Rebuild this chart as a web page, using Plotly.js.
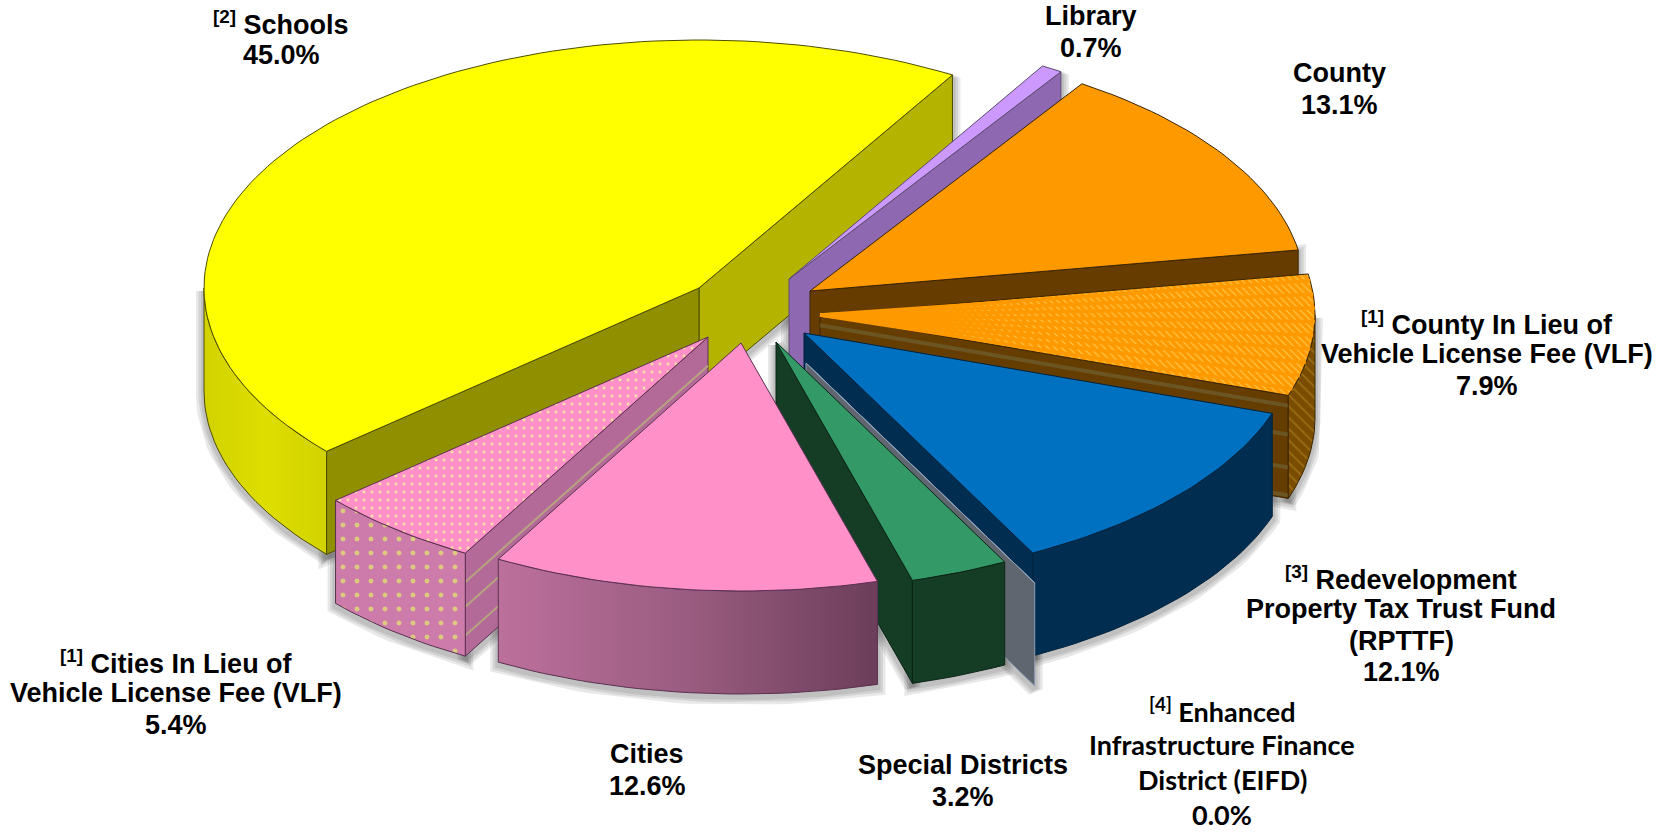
<!DOCTYPE html>
<html>
<head>
<meta charset="utf-8">
<script src="https://cdn.plot.ly/plotly-3.0.1.min.js"></script>
<style>html,body{margin:0;padding:0;background:#fff}#chart{width:1674px;height:832px}</style>
</head>
<body>
<div id="chart"></div>
<script>
// ---- data, going counter-clockwise ----
var categories = ["Schools", "Cities In Lieu of VLF", "Cities", "Special Districts", "EIFD",
                  "RPTTF", "County In Lieu of VLF", "County", "Library"];
var shares = [45.0, 5.4, 12.6, 3.2, 0.0, 12.1, 7.9, 13.1, 0.7];
var labelLines = [
  ["<sup>[2]</sup> Schools", "45.0%"],
  ["<sup>[1]</sup> Cities In Lieu of", "Vehicle License Fee (VLF)", "5.4%"],
  ["Cities", "12.6%"],
  ["Special Districts", "3.2%"],
  ["<sup>[4]</sup> Enhanced", "Infrastructure Finance", "District (EIFD)", "0.0%"],
  ["<sup>[3]</sup> Redevelopment", "Property Tax Trust Fund", "(RPTTF)", "12.1%"],
  ["<sup>[1]</sup> County In Lieu of", "Vehicle License Fee (VLF)", "7.9%"],
  ["County", "13.1%"],
  ["Library", "0.7%"]
];

// ---- pie geometry ----
var pie = {cx: 745, cy: 305, rx: 495, ry: 248, depth: 103, startAngle: 59.2};
var pullX = [-46, -37, -4, 31, 61, 59, 75, 65, 44];
var pullY = [-17, 32, 38, 37, 58, 28, 10, -14, -26];
var labelX = [281, 176, 647, 963, 1222, 1401, 1487, 1339, 1091];
var labelY = [39, 693, 770, 781, 762, 625, 354, 89, 32];
var labelFont = ["Liberation Sans","Liberation Sans","Liberation Sans","Liberation Sans","Lato","Liberation Sans","Liberation Sans","Liberation Sans","Liberation Sans"];
var labelSize = [27, 27, 27, 27, 27, 27, 27, 27, 27];
var labelGap = [31.5, 31.5, 31.5, 31.5, 35, 31.5, 31.5, 31.5, 31.5];
var drawOrder = [0, 8, 7, 6, 5, 4, 3, 1, 2];

// ---- styles ----
var topColor = ["#FFFF00", "#FF91C8", "#FF91C8", "#339966", "#8FA0B8", "#0070C0", "#FF9900", "#FF9900", "#CC99FF"];
var startWall = ["#B3B300", "#B46A98", "#B46A98", "#153D26", "#5F6670", "#002D50", "#663D00", "#663C00", "#8E68B0"];
var endWall = ["#8F8F00", "#B46A98", "#B46A98", "#153D26", "#5F6670", "#002D50", "#663D00", "#663C00", "#8E68B0"];
var edgeColor = ["#4d4d00", "#5a3050", "#5a3050", "#0c2416", "#8FA0B8", "#00233f", "#3a2400", "#3a2400", "#5c4a70"];
var rimGradient = [
  [[0, "#D2D200"], [0.5, "#DEDE00"], [1, "#D2D200"]],
  null,
  [[0, "#BC709C"], [0.5, "#9A5C80"], [1, "#6C3E5A"]],
  [[0, "#153D26"], [1, "#153D26"]],
  null,
  [[0, "#002D50"], [1, "#002D50"]],
  null, null, null
];
var topPattern = [null, {shape: ".", fgcolor: "#FBE3A8", bgcolor: "#FF91C8", size: 8, solidity: 0.1},
  null, null, null, null, {shape: "\\", fgcolor: "#FFC84A", bgcolor: "#FF9900", size: 5, solidity: 0.22}, null, null];
var topBands = [0, 0, 0, 0, 0, 0, 9, 0, 0];
var rimPattern = [null, {shape: ".", fgcolor: "#DCCB7E", bgcolor: "#CD7BAA", size: 14, solidity: 0.1},
  null, null, null, null, {shape: "\\", fgcolor: "#9A6F14", bgcolor: "#7A4C00", size: 8, solidity: 0.2}, null, null];
var wallStripes = [null, {at: [0.28, 0.52, 0.8], color: "#B5A47F", width: 2},
  null, null, null, null, {at: [0.1, 0.38, 0.7, 0.97], color: "#6B5522", width: 4}, null, null];

// ---- build ----
function rad(d) { return d * Math.PI / 180; }
function rimPoint(i, t) {
  return [pie.cx + pullX[i] + pie.rx * Math.cos(rad(t)), pie.cy + pullY[i] - pie.ry * Math.sin(rad(t))];
}
function apex(i) { return [pie.cx + pullX[i], pie.cy + pullY[i]]; }
function arc(i, a, b) {
  var pts = [], n = Math.max(2, Math.ceil(Math.abs(b - a) / 1.5));
  for (var k = 0; k <= n; k++) pts.push(rimPoint(i, a + (b - a) * k / n));
  return pts;
}
function down(p, f) { return [p[0], p[1] + pie.depth * (f === undefined ? 1 : f)]; }
function poly(pts, opts) {
  var x = pts.map(function (p) { return p[0]; }), y = pts.map(function (p) { return p[1]; });
  x.push(x[0]); y.push(y[0]);
  var t = {type: "scatter", mode: "lines", x: x, y: y, fill: "toself", hoverinfo: "skip", showlegend: false,
           line: {color: opts.edge, width: opts.width === undefined ? 1 : opts.width}};
  if (opts.color) t.fillcolor = opts.color;
  if (opts.gradient) t.fillgradient = {type: "horizontal", colorscale: opts.gradient};
  if (opts.pattern) t.fillpattern = opts.pattern;
  return t;
}
function stroke(pts, color, width) {
  return {type: "scatter", mode: "lines", x: pts.map(function (p) { return p[0]; }), y: pts.map(function (p) { return p[1]; }),
          hoverinfo: "skip", showlegend: false, line: {color: color, width: width}};
}

var total = shares.reduce(function (a, b) { return a + b; }, 0);
var angle0 = [], angle1 = [], run = pie.startAngle;
shares.forEach(function (v, i) { angle0[i] = run; run += v / total * 360; angle1[i] = run; });

function visibleRim(i) {
  var a = angle0[i], b = angle1[i], lo = Math.max(a, 180), hi = Math.min(b, 360);
  return hi > lo ? [lo, hi] : null;
}
function wall(i, t) {
  var A = apex(i), R = rimPoint(i, t);
  return [A, R, down(R), down(A)];
}
function rimPoly(i, r) {
  var top = arc(i, r[0], r[1]);
  return top.concat(top.slice().reverse().map(function (p) { return down(p); }));
}

var traces = [], shadows = [];
drawOrder.forEach(function (i) {
  var r = visibleRim(i), outlines = [];
  if (r) outlines.push(rimPoly(i, r));
  if (Math.cos(rad(angle0[i])) > 0) outlines.push(wall(i, angle0[i]));
  if (Math.cos(rad(angle1[i])) < 0) outlines.push(wall(i, angle1[i]));
  outlines.forEach(function (o) {
    var closed = o.concat([o[0]]).map(function (p) { return [p[0], p[1] + 3]; });
    [16, 11, 6].forEach(function (w) { shadows.push(stroke(closed, "rgba(0,0,0,0.09)", w)); });
  });
});

function addStripes(i, t) {
  if (!wallStripes[i]) return;
  var A = apex(i), R = rimPoint(i, t), s = wallStripes[i];
  s.at.forEach(function (f) { traces.push(stroke([down(A, f), down(R, f)], s.color, s.width)); });
}

drawOrder.forEach(function (i) {
  var e = edgeColor[i];
  if (Math.cos(rad(angle0[i])) > 0) {
    traces.push(poly(wall(i, angle0[i]), {color: startWall[i], edge: e}));
    addStripes(i, angle0[i]);
  }
  if (Math.cos(rad(angle1[i])) < 0 && shares[i] > 0) {
    traces.push(poly(wall(i, angle1[i]), {color: endWall[i], edge: e}));
    addStripes(i, angle1[i]);
  }
  var r = visibleRim(i);
  if (r) {
    var o = {edge: e};
    if (rimPattern[i]) o.pattern = rimPattern[i];
    else if (rimGradient[i]) o.gradient = rimGradient[i];
    else o.color = startWall[i];
    traces.push(poly(rimPoly(i, r), o));
  }
  var face = [apex(i)].concat(arc(i, angle0[i], angle1[i]));
  var f = {edge: e};
  if (topPattern[i]) f.pattern = topPattern[i]; else f.color = topColor[i];
  traces.push(poly(face, f));
  for (var b = 1; b <= topBands[i]; b++) {
    var tb = angle0[i] + (angle1[i] - angle0[i]) * (b - 0.5) / topBands[i];
    traces.push(stroke([apex(i), rimPoint(i, tb)], topColor[i], 3.5));
  }
});

var annotations = [];
labelLines.forEach(function (lines, i) {
  lines.forEach(function (line, k) {
    annotations.push({xref: "x", yref: "y", x: labelX[i], y: labelY[i] + (k - (lines.length - 1) / 2) * labelGap[i],
      text: line, showarrow: false, xanchor: "center", yanchor: "middle", align: "center",
      font: {family: labelFont[i], size: labelSize[i], color: "#000000", weight: 700}});
  });
});

Plotly.newPlot("chart", shadows.concat(traces), {
  width: 1674, height: 832, margin: {l: 0, r: 0, t: 0, b: 0},
  paper_bgcolor: "#ffffff", plot_bgcolor: "#ffffff", showlegend: false,
  xaxis: {range: [0, 1674], visible: false, fixedrange: true},
  yaxis: {range: [832, 0], visible: false, fixedrange: true},
  annotations: annotations
}, {displayModeBar: false, staticPlot: true});
</script>
</body>
</html>
